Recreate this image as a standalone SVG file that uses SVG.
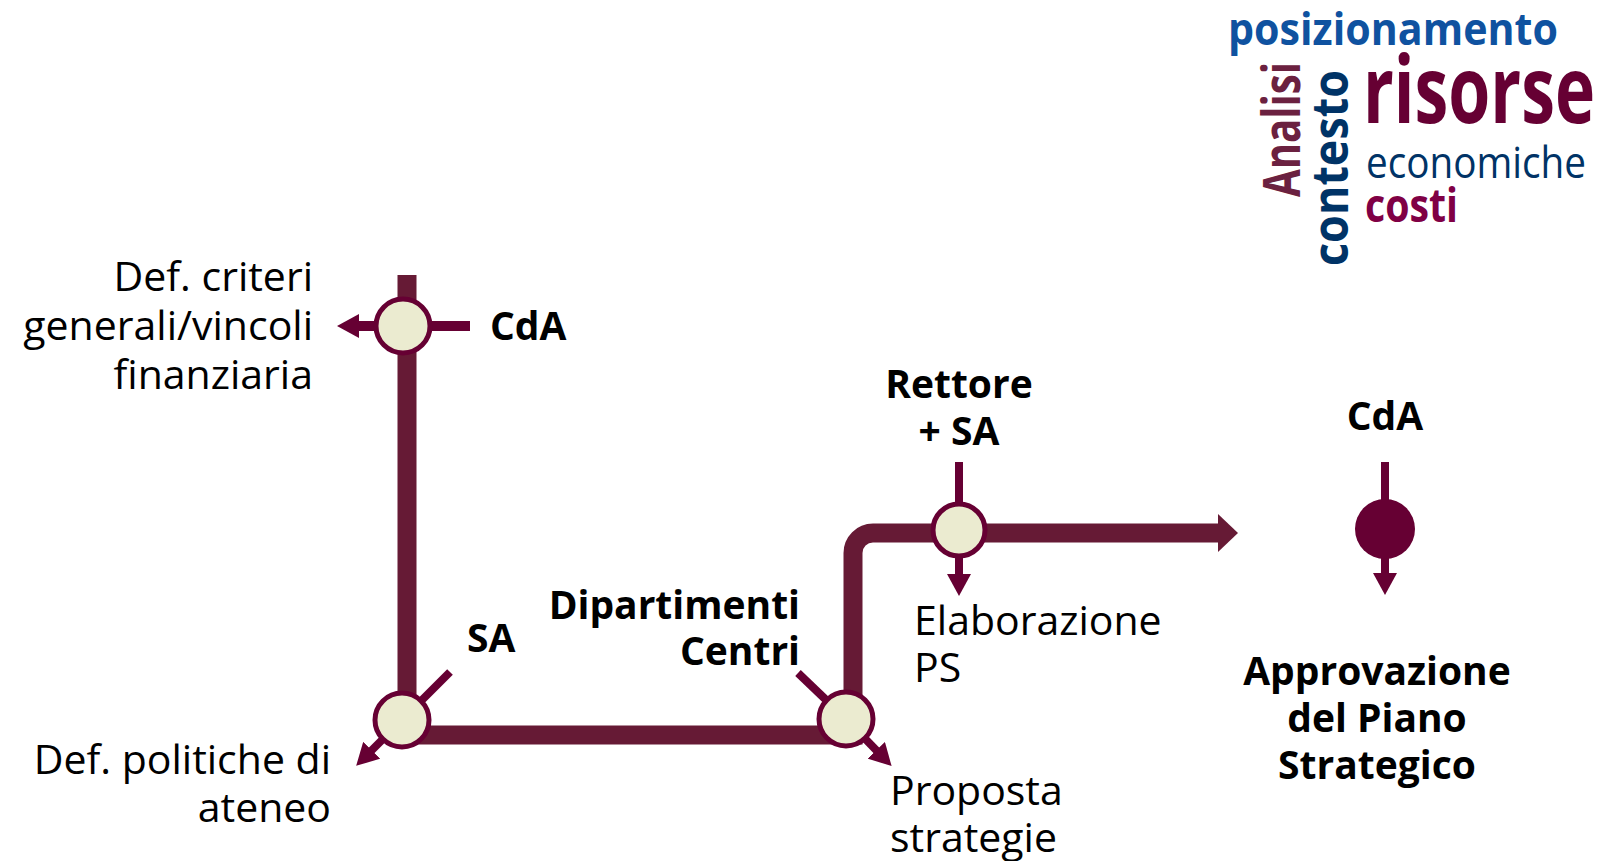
<svg xmlns="http://www.w3.org/2000/svg" width="1609" height="861" viewBox="0 0 1609 861">
<style>
.reg{font-family:"Open Sans","Noto Sans",sans-serif;font-size:41px;fill:#000}
.bold{font-family:"Open Sans","Noto Sans",sans-serif;font-size:39px;font-weight:bold;fill:#000}
.wc{font-family:"Open Sans","Noto Sans",sans-serif;font-weight:bold}
.thin{stroke:#660033;stroke-width:8;fill:none}
.node{fill:#EBEBD0;stroke:#660033;stroke-width:5}
</style>
<defs>
<marker id="ah" markerUnits="userSpaceOnUse" viewBox="0 0 22 24" markerWidth="22" markerHeight="24" refX="1" refY="12" orient="auto">
<path d="M0,0 L22,12 L0,24 Z" fill="#660033"/>
</marker>
</defs>
<rect width="1609" height="861" fill="#fff"/>

<g id="wordcloud">
<text class="wc" x="1228" y="45" font-size="45" fill="#0F52A0" textLength="330" lengthAdjust="spacingAndGlyphs">posizionamento</text>
<text class="wc" x="1363" y="123" font-size="94" fill="#660033" textLength="232" lengthAdjust="spacingAndGlyphs">risorse</text>
<text x="1366" y="178" font-family="Open Sans, Noto Sans, sans-serif" font-size="44" fill="#003366" textLength="220" lengthAdjust="spacingAndGlyphs">economiche</text>
<text class="wc" x="1365" y="222" font-size="46" fill="#800045" textLength="93" lengthAdjust="spacingAndGlyphs">costi</text>
<text class="wc" transform="translate(1300,197) rotate(-90)" font-size="52" fill="#6B2140" textLength="135" lengthAdjust="spacingAndGlyphs">Analisi</text>
<text class="wc" transform="translate(1348,266) rotate(-90)" font-size="50" fill="#003366" textLength="196" lengthAdjust="spacingAndGlyphs">contesto</text>
</g>

<g id="connectors">
<path d="M407,275 V735 H853 V553 A20,20 0 0 1 873,533 H1220" fill="none" stroke="#661A35" stroke-width="19" stroke-linejoin="miter"/>
<polygon points="1218,514 1238,533 1218,552" fill="#661A35"/>
<line class="thin" x1="470" y1="326" x2="358" y2="326" marker-end="url(#ah)" style="stroke-width:10"/>
<line class="thin" x1="450" y1="672" x2="402" y2="720"/>
<line class="thin" x1="402" y1="720" x2="371" y2="751" marker-end="url(#ah)"/>
<line class="thin" x1="798" y1="673" x2="846" y2="719"/>
<line class="thin" x1="846" y1="719" x2="877" y2="751" marker-end="url(#ah)"/>
<line class="thin" x1="959" y1="462" x2="959" y2="530"/>
<line class="thin" x1="959" y1="530" x2="959" y2="575" marker-end="url(#ah)"/>
<line class="thin" x1="1385" y1="462" x2="1385" y2="574" marker-end="url(#ah)"/>
</g>

<g id="node-cda1">
<circle class="node" cx="403" cy="326" r="27"/>
<text class="bold" x="490" y="340">CdA</text>
<text class="reg" text-anchor="end" x="313" y="291">Def. criteri</text>
<text class="reg" text-anchor="end" x="313" y="340">generali/vincoli</text>
<text class="reg" text-anchor="end" x="313" y="389">finanziaria</text>
</g>

<g id="node-sa">
<circle class="node" cx="402" cy="720" r="27"/>
<text class="bold" x="467" y="652">SA</text>
<text class="reg" text-anchor="end" x="331" y="774">Def. politiche di</text>
<text class="reg" text-anchor="end" x="331" y="822">ateneo</text>
</g>

<g id="node-dip">
<circle class="node" cx="846" cy="719" r="27"/>
<text class="bold" text-anchor="end" x="800" y="619">Dipartimenti</text>
<text class="bold" text-anchor="end" x="800" y="665">Centri</text>
<text class="reg" x="890" y="805">Proposta</text>
<text class="reg" x="890" y="852">strategie</text>
</g>

<g id="node-rettore">
<circle class="node" cx="959" cy="530" r="26"/>
<text class="bold" text-anchor="middle" x="959" y="398">Rettore</text>
<text class="bold" text-anchor="middle" x="959" y="445">+ SA</text>
<text class="reg" x="914" y="635">Elaborazione</text>
<text class="reg" x="914" y="682">PS</text>
</g>

<g id="node-cda2">
<circle cx="1385" cy="529" r="30" fill="#660033"/>
<text class="bold" text-anchor="middle" x="1385" y="430">CdA</text>
<text class="bold" text-anchor="middle" x="1377" y="685" font-size="40">Approvazione</text>
<text class="bold" text-anchor="middle" x="1377" y="732" font-size="40">del Piano</text>
<text class="bold" text-anchor="middle" x="1377" y="779" font-size="40">Strategico</text>
</g>
</svg>
